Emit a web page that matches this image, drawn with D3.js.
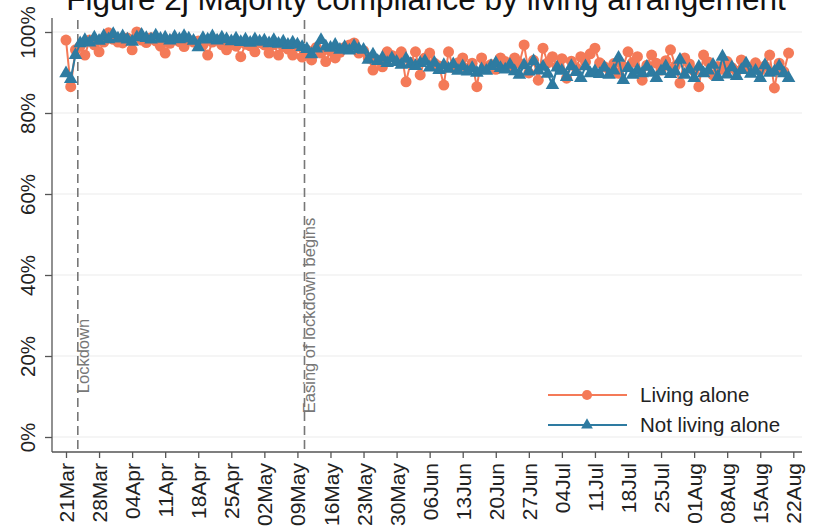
<!DOCTYPE html>
<html>
<head>
<meta charset="utf-8">
<script src="https://cdn.jsdelivr.net/npm/d3@7"></script>
<style>
  html, body { margin: 0; padding: 0; background: #fff; }
  svg { display: block; font-family: "Liberation Sans", Arial, sans-serif; }
</style>
</head>
<body>
<svg id="chart" width="818" height="530"></svg>
<script>
// ---------- data ----------
const startDate = "2020-03-21";
const livingAlone = [
  98, 86.5, 95.6, 96.5, 94.3, 98, 96.8,
  95.1, 97.5, 99.8, 98.2, 97.5, 97.3, 98.5,
  95.6, 100, 98, 97.4, 98.6, 97.8, 96.5,
  94.8, 97.2, 98.3, 97.6, 96.4, 98, 97.5,
  97.8, 96.8, 94.3, 97.5, 98, 96.8, 95.6,
  97.4, 96.5, 93.9, 97, 96.6, 95.1, 97.4,
  96.8, 94.8, 96.9, 94.3, 96.4, 95.8, 94.3,
  96.5, 93.8, 95.5, 93.1, 96.2, 94.8, 92.7,
  95.3, 93.6, 95, 96.2, 96.8, 97.3, 94.8,
  95.4, 93.6, 90.6, 93, 91.4, 95.1, 94.2,
  93.8, 95.1, 87.7, 92.5, 95.1, 89.4, 93.6,
  94.8, 92.3, 91.6, 86.9, 95.1, 91.2, 92.4,
  93.6, 91, 92.3, 86.5, 93.6, 91.4, 92,
  90.8, 93.6, 92.7, 91.5, 93.6, 92.3, 96.8,
  89.9, 93, 88.1, 96, 92.4, 93.9, 91.5,
  93.4, 88.6, 92.8, 91.2, 93.9, 92.6, 94.6,
  96, 92.4, 91.4, 90.8, 92.2, 89.8, 91.5,
  95.1, 92.5, 93.9, 88.1, 91.8, 94.3, 92.3,
  90.6, 92.9, 95.6, 91.6, 87.4, 93.6, 92.1,
  90.4, 86.5, 94.3, 92.6, 89.4, 91.5, 90.8,
  92.7, 91.2, 90.3, 93.1, 91.5, 90.6, 92.4,
  90.5, 91.6, 94.3, 86.2, 92.3, 90.2, 94.8
];
const notLivingAlone = [
  89.8, 88.4, 94.3, 97.2, 98, 97.4, 98.6,
  97.8, 99, 98.2, 99.5, 98.4, 98.9, 98.1,
  97.6, 98.7, 99.3, 98.5, 98.1, 99.1, 98.3,
  98.6, 97.9, 98.8, 98.2, 99, 98.4, 97.8,
  96.2, 98.5, 98.1, 98.9, 97.9, 98.6, 98.2,
  97.7, 98.4, 97.5, 98.1, 97.3, 98.2, 97.6,
  97.9, 97.2, 98, 97.1, 97.6, 96.8, 97.4,
  96.9, 96.3, 95.8, 94.5, 95.9, 98, 96.4,
  96.1, 96.8, 95.6, 96.3, 95.4, 96.5, 95.8,
  95.6, 93.1, 94.4, 92.8, 93.6, 92.3, 93.5,
  92.6, 91.9, 93.4, 92.1, 91.6, 92.3, 92.8,
  91.2, 92.4, 90.6, 91.8, 90.9, 92, 90.4,
  91.5, 90.2, 91.1, 89.9, 90.8, 90.4, 91.6,
  92.3, 91.1, 90.7, 91.9, 90.3, 89.4, 91.8,
  90.2, 92.8, 90.5, 91.4, 89.7, 86.9, 91.2,
  90.4, 88.9, 91.6, 90.1, 88.6, 91.5, 89.8,
  90.3, 89.6, 91.2, 89.4, 90.5, 93.6, 88.1,
  91.1, 89.4, 90.6, 89.8, 91.4, 89.9, 88.6,
  90.3, 91.5, 89.6, 90.2, 93.1, 89.4, 90.7,
  88.6, 91.4, 89.8, 90.5, 91.9, 88.9, 93.9,
  89.5, 91.3, 89.1, 90.6, 92.2, 89.7, 90.4,
  88.6, 91.8, 89.9, 90.2, 91.5, 89.8, 88.6
];
const seriesNames = ["Living alone", "Not living alone"];
const xTickDates = ["2020-03-21","2020-03-28","2020-04-04","2020-04-11","2020-04-18","2020-04-25",
  "2020-05-02","2020-05-09","2020-05-16","2020-05-23","2020-05-30","2020-06-06","2020-06-13",
  "2020-06-20","2020-06-27","2020-07-04","2020-07-11","2020-07-18","2020-07-25","2020-08-01",
  "2020-08-08","2020-08-15","2020-08-22"];
const yTicks = [0, 20, 40, 60, 80, 100];
const eventDates = ["2020-03-23T12:00:00Z", "2020-05-10T12:00:00Z"];
const eventLabels = ["Lockdown", "Easing of lockdown begins"];
const eventLabelY = [20, 30];
const titleText = "Figure 2j Majority compliance by living arrangement";

// ---------- layout ----------
const svg = d3.select("#chart");
const plot = { left: 52, right: 802, top: 18, bottom: 452 };
const colors = ["#f47a58", "#2e7ba1"];

const parse = s => new Date(s.length > 10 ? s : s + "T00:00:00Z");
const t0 = parse(startDate);
const dateOf = i => d3.utcDay.offset(t0, i);

const x = d3.scaleUtc()
  .domain([parse("2020-03-21"), parse("2020-08-22")])
  .range([66, 793.3]);
const y = d3.scaleLinear().domain([0, 100]).range([437, 32]);

// gridlines
svg.append("g").selectAll("line").data(yTicks).join("line")
  .attr("x1", plot.left).attr("x2", plot.right)
  .attr("y1", d => y(d)).attr("y2", d => y(d))
  .attr("stroke", "#ececec").attr("stroke-width", 1.2);

// y axis
const yAxis = svg.append("g").attr("transform", `translate(${plot.left},0)`)
  .call(d3.axisLeft(y).tickValues(yTicks).tickFormat(d => d + "%").tickSize(7).tickSizeOuter(0));
yAxis.select(".domain").remove();
svg.append("line").attr("x1", plot.left).attr("x2", plot.left)
  .attr("y1", plot.top).attr("y2", plot.bottom).attr("stroke", "#555").attr("stroke-width", 1.3);
yAxis.selectAll(".tick line").attr("stroke", "#555").attr("stroke-width", 1.3);
yAxis.selectAll(".tick text")
  .attr("font-size", 20.5).attr("fill", "#222")
  .attr("text-anchor", "middle")
  .attr("transform", "rotate(-90)")
  .attr("x", 0).attr("y", -17).attr("dy", 0);

// x axis
const xAxis = svg.append("g").attr("transform", `translate(0,${plot.bottom})`)
  .call(d3.axisBottom(x).tickValues(xTickDates.map(parse))
    .tickFormat(d3.utcFormat("%d%b")).tickSize(6).tickSizeOuter(0));
xAxis.select(".domain").remove();
svg.append("line").attr("x1", plot.left).attr("x2", plot.right)
  .attr("y1", plot.bottom).attr("y2", plot.bottom).attr("stroke", "#555").attr("stroke-width", 1.3);
xAxis.selectAll(".tick line").attr("stroke", "#555").attr("stroke-width", 1.3);
xAxis.selectAll(".tick text")
  .attr("font-size", 21).attr("fill", "#222")
  .attr("text-anchor", "end")
  .attr("transform", "rotate(-90)")
  .attr("x", -11).attr("y", 0).attr("dy", "0.36em");

// event lines
eventDates.forEach((ds, i) => {
  const ex = x(parse(ds));
  svg.append("line").attr("x1", ex).attr("x2", ex)
    .attr("y1", plot.top + 2).attr("y2", plot.bottom)
    .attr("stroke", "#777").attr("stroke-width", 1.6).attr("stroke-dasharray", "9,5");
  svg.append("text")
    .attr("transform", `translate(${ex + 11},${y(eventLabelY[i])}) rotate(-90)`)
    .attr("text-anchor", "middle")
    .attr("font-size", 16.5).attr("fill", "#777")
    .text(eventLabels[i]);
});

// series
const series = [livingAlone, notLivingAlone];
const line = d3.line().x((d, i) => x(dateOf(i))).y(d => y(d));
const symbols = [d3.symbolCircle, d3.symbolTriangle];
const symSizes = [95, 80];
series.forEach((vals, k) => {
  const g = svg.append("g");
  g.append("path").datum(vals).attr("d", line)
    .attr("fill", "none").attr("stroke", colors[k]).attr("stroke-width", 2);
  g.selectAll("path.m").data(vals).join("path").attr("class", "m")
    .attr("transform", (d, i) => `translate(${x(dateOf(i))},${y(d)})`)
    .attr("d", d3.symbol().type(symbols[k]).size(symSizes[k]))
    .attr("fill", colors[k]);
});

// legend
const legY = [395, 425];
const legSizes = [80, 60];
seriesNames.forEach((name, k) => {
  svg.append("line").attr("x1", 548).attr("x2", 627).attr("y1", legY[k]).attr("y2", legY[k])
    .attr("stroke", colors[k]).attr("stroke-width", 2);
  svg.append("path").attr("transform", `translate(587,${legY[k]})`)
    .attr("d", d3.symbol().type(symbols[k]).size(legSizes[k])).attr("fill", colors[k]);
  svg.append("text").attr("x", 640).attr("y", legY[k]).attr("dy", "0.36em")
    .attr("font-size", 20.5).attr("fill", "#222").text(name);
});

// title (cut at top edge, as in the reference)
svg.append("text").attr("x", 426).attr("y", 10).attr("text-anchor", "middle")
  .attr("font-size", 31.5).attr("fill", "#111").text(titleText);
</script>
</body>
</html>
